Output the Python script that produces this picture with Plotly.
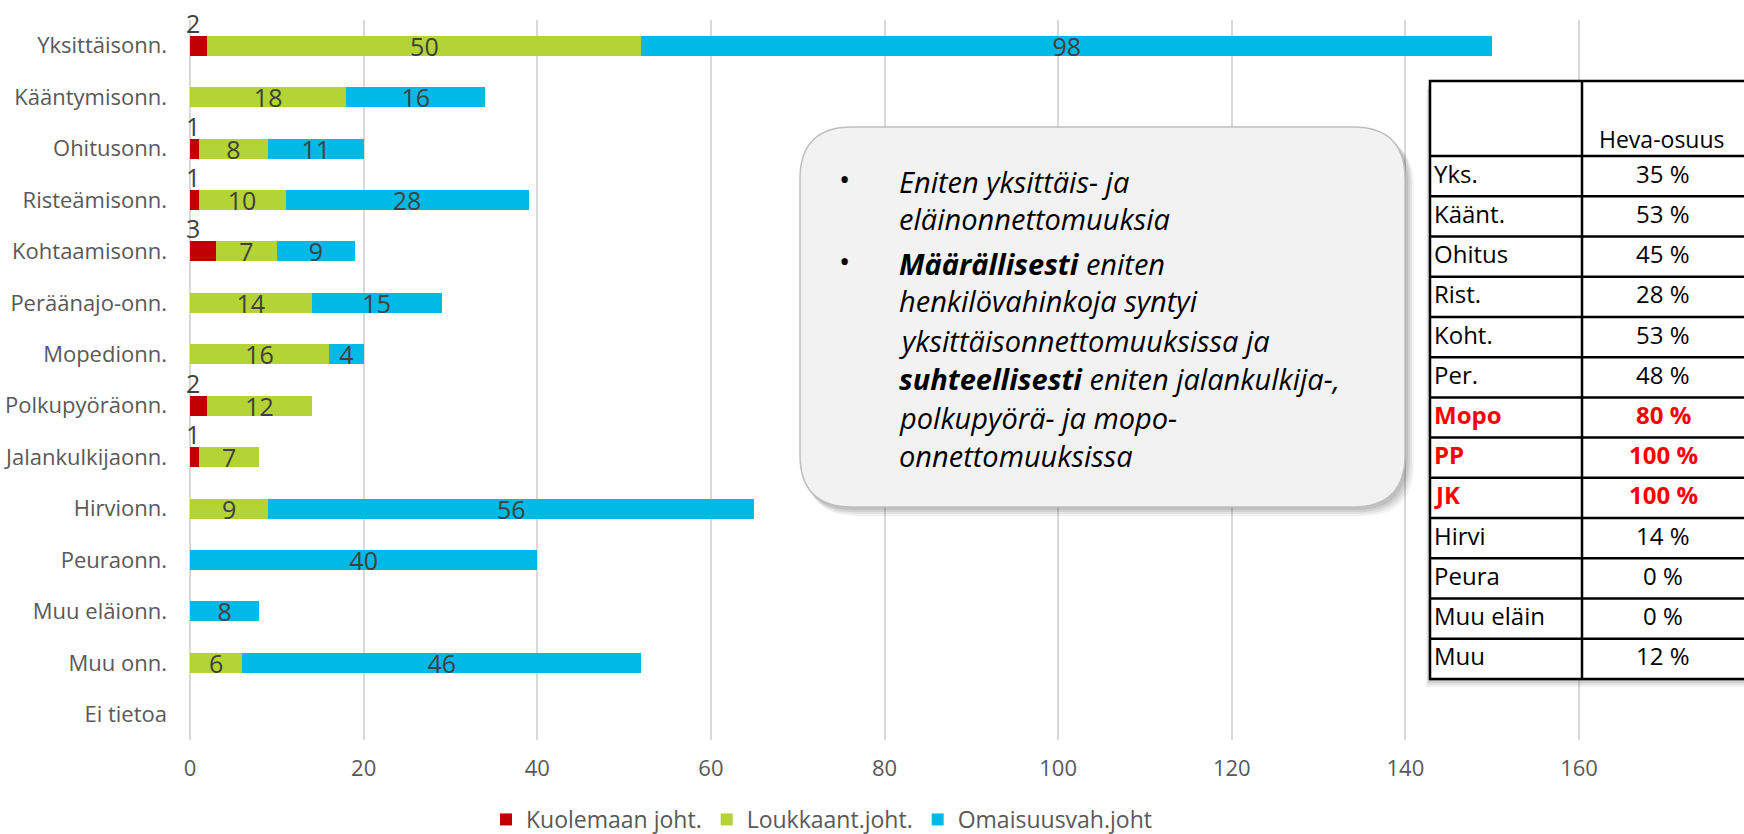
import plotly.graph_objects as go

# ---------------- data ----------------
categories = ["Yksittäisonn.", "Kääntymisonn.", "Ohitusonn.", "Risteämisonn.",
              "Kohtaamisonn.", "Peräänajo-onn.", "Mopedionn.", "Polkupyöräonn.",
              "Jalankulkijaonn.", "Hirvionn.", "Peuraonn.", "Muu eläionn.",
              "Muu onn.", "Ei tietoa"]
kuolemaan = [2, 0, 1, 1, 3, 0, 0, 2, 1, 0, 0, 0, 0, 0]
loukkaant = [50, 18, 8, 10, 7, 14, 16, 12, 7, 9, 0, 0, 6, 0]
omaisuus = [98, 16, 11, 28, 9, 15, 4, 0, 0, 56, 40, 8, 46, 0]
series_names = ["Kuolemaan joht.", "Loukkaant.joht.", "Omaisuusvah.joht"]
x_ticks = [0, 20, 40, 60, 80, 100, 120, 140, 160]

table_header = "Heva-osuus"
table_labels = ["Yks.", "Käänt.", "Ohitus", "Rist.", "Koht.", "Per.", "Mopo",
                "PP", "JK", "Hirvi", "Peura", "Muu eläin", "Muu"]
table_values = ["35 %", "53 %", "45 %", "28 %", "53 %", "48 %", "80 %",
                "100 %", "100 %", "14 %", "0 %", "0 %", "12 %"]
table_highlight = [False, False, False, False, False, False, True,
                   True, True, False, False, False, False]

callout_lines = [
    "<i>Eniten yksittäis- ja</i>",
    "<i>eläinonnettomuuksia</i>",
    "<b><i>Määrällisesti</i></b><i> eniten</i>",
    "<i>henkilövahinkoja syntyi</i>",
    "<i>yksittäisonnettomuuksissa ja</i>",
    "<b><i>suhteellisesti</i></b><i> eniten jalankulkija-,</i>",
    "<i>polkupyörä- ja mopo-</i>",
    "<i>onnettomuuksissa</i>",
]
callout_bullet_lines = [0, 2]

# ---------------- layout constants ----------------
W, H = 1744, 834
ML, MR, MT, MB = 190, 0, 20, 94
PW = W - ML - MR
PH = H - MT - MB
FONT = "Open Sans"
C_RED, C_GREEN, C_BLUE = "#C00000", "#B4D334", "#00B9E6"


def px(x):
    return (x - ML) / PW


def py(y):
    return (H - MB - y) / PH


def lbl(vals):
    return [str(v) if v else "" for v in vals]


fig = go.Figure()
fig.add_trace(go.Bar(name=series_names[0], y=categories, x=kuolemaan, orientation="h",
                     marker=dict(color=C_RED, line=dict(width=0)), hoverinfo="x+y"))
fig.add_trace(go.Bar(name=series_names[1], y=categories, x=loukkaant, orientation="h",
                     marker=dict(color=C_GREEN, line=dict(width=0)),
                     text=lbl(loukkaant), textposition="inside", insidetextanchor="middle",
                     textangle=0, constraintext="none",
                     textfont=dict(size=25, color="#404040", family=FONT)))
fig.add_trace(go.Bar(name=series_names[2], y=categories, x=omaisuus, orientation="h",
                     marker=dict(color=C_BLUE, line=dict(width=0)),
                     text=lbl(omaisuus), textposition="inside", insidetextanchor="middle",
                     textangle=0, constraintext="none",
                     textfont=dict(size=25, color="#404040", family=FONT)))

annotations = []
# red segment labels placed above the bar start
for cat, v in zip(categories, kuolemaan):
    if v:
        annotations.append(dict(x=0, y=cat, xref="x", yref="y", text=str(v),
                                showarrow=False, xshift=3, yshift=23,
                                font=dict(size=25, color="#404040", family=FONT)))

shapes = []

# ----- callout box -----
def rounded_path(x0, y0, x1, y1, r):
    pts = [
        ("M", [(x0 + r, y0)]),
        ("L", [(x1 - r, y0)]),
        ("Q", [(x1, y0), (x1, y0 + r)]),
        ("L", [(x1, y1 - r)]),
        ("Q", [(x1, y1), (x1 - r, y1)]),
        ("L", [(x0 + r, y1)]),
        ("Q", [(x0, y1), (x0, y1 - r)]),
        ("L", [(x0, y0 + r)]),
        ("Q", [(x0, y0), (x0 + r, y0)]),
    ]
    s = ""
    for cmd, ps in pts:
        s += cmd + " ".join(f"{px(a):.5f},{py(b):.5f}" for a, b in ps) + " "
    return s + "Z"


bx0, by0, bx1, by1, br = 800, 127, 1405, 507, 52
for off, alpha in [(9, 0.05), (7, 0.06), (5, 0.08), (3, 0.08)]:
    shapes.append(dict(type="path", xref="paper", yref="paper",
                       path=rounded_path(bx0 + off * 0.6, by0 + off, bx1 + off, by1 + off, br),
                       fillcolor=f"rgba(0,0,0,{alpha})", line=dict(width=0), layer="above"))
shapes.append(dict(type="path", xref="paper", yref="paper",
                   path=rounded_path(bx0, by0, bx1, by1, br),
                   fillcolor="#F2F2F2", line=dict(color="#BFBFBF", width=1.5), layer="above"))

line_y = [181, 218, 263, 301, 340, 378, 417, 455]
for i, (t, yy) in enumerate(zip(callout_lines, line_y)):
    annotations.append(dict(x=px(897), y=py(yy), xref="paper", yref="paper", text=t,
                            showarrow=False, xanchor="left", yanchor="middle",
                            font=dict(size=29, color="#000000", family=FONT)))
    if i in callout_bullet_lines:
        annotations.append(dict(x=px(844), y=py(yy - 3), xref="paper", yref="paper",
                                text="•", showarrow=False, xanchor="center",
                                yanchor="middle",
                                font=dict(size=30, color="#000000", family=FONT)))

# ----- table -----
tx0, tx_div, tx1 = 1430, 1582, 1800
ty_top, ty_head = 81, 156
row_h = (679 - 156) / len(table_labels)
ty_bot = ty_head + row_h * len(table_labels)
for off, alpha in [(8, 0.05), (6, 0.06), (4, 0.08), (2, 0.1)]:
    shapes.append(dict(type="rect", xref="paper", yref="paper",
                       x0=px(tx0 - off * 0.5), x1=px(tx1), y0=py(ty_top + off), y1=py(ty_bot + off),
                       fillcolor=f"rgba(0,0,0,{alpha})", line=dict(width=0), layer="above"))
shapes.append(dict(type="rect", xref="paper", yref="paper",
                   x0=px(tx0), x1=px(tx1), y0=py(ty_top), y1=py(ty_bot),
                   fillcolor="#FFFFFF", line=dict(color="#000000", width=2.5), layer="above"))
shapes.append(dict(type="line", xref="paper", yref="paper",
                   x0=px(tx_div), x1=px(tx_div), y0=py(ty_top), y1=py(ty_bot),
                   line=dict(color="#000000", width=2.5), layer="above"))
for k in range(len(table_labels)):
    yl = ty_head + k * row_h
    shapes.append(dict(type="line", xref="paper", yref="paper",
                       x0=px(tx0), x1=px(tx1), y0=py(yl), y1=py(yl),
                       line=dict(color="#000000", width=2.5), layer="above"))

annotations.append(dict(x=px(1662), y=py(139), xref="paper", yref="paper", text=table_header,
                        showarrow=False, xanchor="center", yanchor="middle",
                        font=dict(size=23, color="#000000", family=FONT)))
for k, (lab, val, hl) in enumerate(zip(table_labels, table_values, table_highlight)):
    yc = ty_head + (k + 0.5) * row_h - 3
    col = "#FF0000" if hl else "#000000"
    tl = f"<b>{lab}</b>" if hl else lab
    tv = f"<b>{val}</b>" if hl else val
    annotations.append(dict(x=px(1432), y=py(yc), xref="paper", yref="paper", text=tl,
                            showarrow=False, xanchor="left", yanchor="middle",
                            font=dict(size=24, color=col, family=FONT)))
    annotations.append(dict(x=px(1663), y=py(yc), xref="paper", yref="paper", text=tv,
                            showarrow=False, xanchor="center", yanchor="middle",
                            font=dict(size=24, color=col, family=FONT)))

fig.update_layout(
    width=W, height=H,
    margin=dict(l=ML, r=MR, t=MT, b=MB, pad=0, autoexpand=False),
    barmode="stack", bargap=0.61,
    plot_bgcolor="#FFFFFF", paper_bgcolor="#FFFFFF",
    font=dict(family=FONT, color="#595959"),
    showlegend=True,
    legend=dict(orientation="h", x=px(486), y=py(841), xanchor="left", yanchor="bottom",
                font=dict(size=23, color="#595959", family=FONT),
                bgcolor="rgba(0,0,0,0)", traceorder="normal"),
    xaxis=dict(range=[0, 179], tickvals=x_ticks, showgrid=True, gridcolor="#D9D9D9",
               gridwidth=1.5, zeroline=True, zerolinecolor="#D9D9D9", zerolinewidth=1.5,
               showline=False, ticks="", ticklabelstandoff=13, automargin=False,
               tickfont=dict(size=22, color="#595959", family=FONT), fixedrange=True),
    yaxis=dict(type="category", categoryorder="array", categoryarray=categories,
               range=[len(categories) - 0.5, -0.5], showgrid=False, zeroline=False,
               showline=False, ticks="", ticklabelstandoff=22, automargin=False,
               tickfont=dict(size=22, color="#595959", family=FONT), fixedrange=True),
    shapes=shapes,
    annotations=annotations,
)

fig.write_html("out.html", config={"displayModeBar": False},
               post_script="document.body.style.margin='0px';document.body.style.overflow='hidden';")
